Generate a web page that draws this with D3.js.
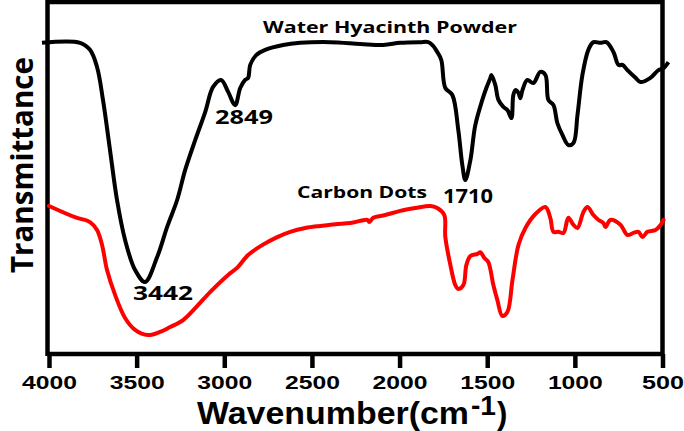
<!DOCTYPE html>
<html>
<head>
<meta charset="utf-8">
<script src="https://cdn.jsdelivr.net/npm/d3@7"></script>
<style>
  html, body { margin: 0; padding: 0; background: #fff; }
  svg { display: block; }
</style>
</head>
<body>
<div id="chart"></div>
<script>
// ----- data (wavenumber, transmittance a.u.) ----- //

const tickValues = [4000, 3500, 3000, 2500, 2000, 1500, 1000, 500];

const hyacinthWn = [4040, 3823, 3766, 3726, 3692, 3652, 3612, 3566, 3509, 3452, 3383, 3326, 3269, 3223, 3166, 3109, 3064, 3018, 2978, 2938, 2909, 2881, 2864, 2852, 2818, 2767, 2664, 2567, 2396, 2224, 2093, 1996, 1882, 1836, 1808, 1785, 1762, 1739, 1699, 1665, 1642, 1625, 1596, 1568, 1528, 1505, 1482, 1476, 1454, 1436, 1408, 1385, 1362, 1351, 1339, 1322, 1311, 1299, 1271, 1237, 1197, 1168, 1151, 1122, 1100, 1071, 1037, 1008, 985, 957, 923, 894, 854, 820, 780, 751, 728, 700, 654, 626, 569, 523, 494, 466];
const hyacinthT = [88.9, 88.9, 86.9, 82.0, 72.6, 58.3, 44.0, 32.6, 24.0, 20.6, 27.7, 36.3, 44.0, 52.6, 61.1, 69.1, 76.3, 78.3, 74.9, 71.1, 76.0, 78.3, 78.9, 82.6, 85.4, 86.9, 88.3, 88.9, 89.1, 88.6, 88.3, 88.9, 89.1, 89.1, 88.0, 86.3, 84.0, 76.0, 74.0, 64.0, 54.0, 49.7, 55.4, 65.4, 72.6, 76.0, 78.9, 79.7, 76.9, 72.6, 70.6, 69.7, 67.4, 74.0, 75.4, 74.6, 73.1, 75.4, 78.3, 77.4, 80.6, 79.7, 72.6, 71.1, 66.0, 62.6, 59.7, 60.3, 68.3, 79.7, 86.9, 89.1, 88.9, 89.1, 86.3, 82.6, 82.6, 81.1, 78.9, 77.7, 78.9, 81.1, 81.7, 83.4];

const dotsWn = [4000, 3852, 3766, 3726, 3697, 3669, 3623, 3566, 3509, 3435, 3366, 3309, 3235, 3166, 3081, 2978, 2927, 2864, 2784, 2698, 2624, 2538, 2453, 2367, 2281, 2184, 2173, 2150, 2082, 1996, 1910, 1825, 1785, 1745, 1739, 1710, 1682, 1665, 1636, 1619, 1596, 1556, 1539, 1516, 1494, 1465, 1442, 1414, 1385, 1356, 1322, 1282, 1225, 1168, 1140, 1122, 1094, 1065, 1037, 1008, 985, 951, 928, 894, 865, 837, 825, 797, 740, 700, 666, 637, 614, 586, 540, 511, 494];
const dotsT = [42.3, 39.1, 37.7, 35.4, 31.1, 24.0, 16.9, 10.3, 6.9, 5.4, 6.3, 7.7, 9.7, 13.1, 17.7, 22.6, 24.6, 28.3, 31.1, 33.4, 34.9, 36.0, 36.6, 37.1, 37.4, 38.3, 37.7, 38.9, 39.7, 40.9, 41.7, 42.3, 41.7, 39.7, 33.4, 25.4, 19.7, 18.6, 19.7, 25.4, 28.0, 28.6, 29.1, 27.4, 26.3, 19.7, 15.4, 10.9, 12.0, 21.1, 31.1, 36.0, 40.0, 42.0, 38.9, 34.9, 34.9, 34.6, 38.9, 36.9, 36.0, 40.6, 42.0, 39.7, 38.3, 37.4, 36.3, 38.3, 36.9, 34.0, 34.6, 34.9, 33.4, 34.9, 35.4, 36.9, 38.3];

// peak labels
const peakLabels = ["3442", "2849", "1710"];

// ----- the graph ----- //

const W = 684, H = 431;
const plotLeft = 47.5, plotRight = 662.5, plotTop = 2, plotBottom = 354;

const svg = d3.select('#chart').append('svg')
    .attr('width', W)
    .attr('height', H);

const x = d3.scaleLinear()
    .domain([4000, 500])
    .range([plotLeft + 1.5, plotRight]);

const y = d3.scaleLinear()
    .domain([0, 100])
    .range([plotBottom, plotTop + 2]);

const line = d3.line()
    .x(d => x(d[0]))
    .y(d => y(d[1]))
    .curve(d3.curveCatmullRom.alpha(0.5));

// frame (top + right)
svg.append('path')
    .attr('d', `M${plotLeft},${plotTop} H${plotRight} V${plotBottom}`)
    .attr('fill', 'none')
    .attr('stroke', '#000')
    .attr('stroke-width', 4.5);

// X axis
const axeX = d3.axisBottom(x)
    .tickValues(tickValues)
    .tickSize(14)
    .tickSizeOuter(0)
    .tickPadding(8)
    .tickFormat(d3.format('d'));

const groupeX = svg.append('g')
    .attr('transform', `translate(0, ${plotBottom})`)
    .call(axeX);

groupeX.select('.domain')
    .attr('d', `M${plotLeft},0 H${plotRight}`)
    .attr('stroke-width', 4.5);
groupeX.selectAll('.tick line')
    .attr('stroke-width', 4.5);
groupeX.selectAll('text')
    .attr('fill', '#000')
    .style('font-family', '"Liberation Sans", Arial, sans-serif')
    .style('font-weight', 'bold')
    .style('font-size', '19px')
    .attr('textLength', d => d >= 1000 ? 55 : 42)
    .attr('lengthAdjust', 'spacingAndGlyphs');

// Y axis: just the line, no ticks
const axeY = d3.axisLeft(y).tickValues([]).tickSizeOuter(0);
const groupeY = svg.append('g')
    .attr('transform', `translate(${plotLeft}, 0)`)
    .call(axeY);
groupeY.select('.domain')
    .attr('d', `M0,${plotTop - 2} V${plotBottom + 2}`)
    .attr('stroke-width', 4.5);

// spectra
const hyacinth = hyacinthWn.map((w, i) => [w, hyacinthT[i]]);
const dots = dotsWn.map((w, i) => [w, dotsT[i]]);

svg.append('path')
    .datum(dots)
    .attr('d', line)
    .attr('fill', 'none')
    .attr('stroke', '#ff0000')
    .attr('stroke-width', 4)
    .attr('stroke-linejoin', 'round')
    .attr('stroke-linecap', 'round');

svg.append('path')
    .datum(hyacinth)
    .attr('d', line)
    .attr('fill', 'none')
    .attr('stroke', '#000')
    .attr('stroke-width', 4)
    .attr('stroke-linejoin', 'round')
    .attr('stroke-linecap', 'butt');

// labels
const labelFont = '"Open Sans", "Noto Sans", sans-serif';

function addLabel(txt, cx, baseY, len, size) {
    svg.append('text')
        .attr('x', cx)
        .attr('y', baseY)
        .attr('text-anchor', 'middle')
        .attr('textLength', len)
        .attr('lengthAdjust', 'spacingAndGlyphs')
        .style('font-family', labelFont)
        .style('font-weight', 'bold')
        .style('font-size', size + 'px')
        .text(txt);
}

addLabel('Water Hyacinth Powder', 390, 33, 254, 16);
addLabel('Carbon Dots', 362, 198, 130, 16);
addLabel(peakLabels[0], 163, 300, 60, 19);
addLabel(peakLabels[1], 244, 124, 58, 19);
addLabel(peakLabels[2], 468, 203, 50, 19);

// axis titles
svg.append('text')
    .attr('transform', 'translate(33, 165) rotate(-90)')
    .attr('text-anchor', 'middle')
    .attr('textLength', 216)
    .attr('lengthAdjust', 'spacingAndGlyphs')
    .style('font-family', labelFont)
    .style('font-weight', 'bold')
    .style('font-size', '31px')
    .text('Transmittance');

const title = svg.append('text')
    .attr('x', 197)
    .attr('y', 424)
    .style('font-family', '"Liberation Sans", Arial, sans-serif')
    .style('font-weight', 'bold')
    .style('font-size', '31px');
title.append('tspan')
    .attr('textLength', 272)
    .attr('lengthAdjust', 'spacingAndGlyphs')
    .text('Wavenumber(cm');
title.append('tspan')
    .attr('x', 471)
    .attr('y', 415)
    .attr('textLength', 25)
    .attr('lengthAdjust', 'spacingAndGlyphs')
    .style('font-size', '28px')
    .text('-1');
title.append('tspan')
    .attr('x', 497)
    .attr('y', 424)
    .text(')');
</script>
</body>
</html>
